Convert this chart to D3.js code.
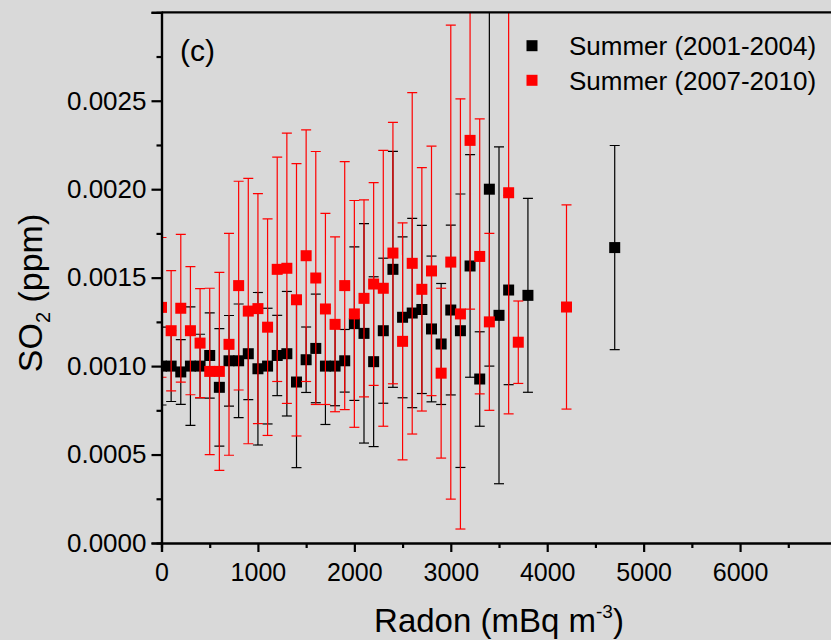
<!DOCTYPE html>
<html><head><meta charset="utf-8">
<script src="https://cdn.jsdelivr.net/npm/d3@7"></script>
<style>
html,body{margin:0;padding:0;background:#d9d9d9;}
svg{display:block;font-family:"Liberation Sans",Arial,sans-serif;}
</style></head>
<body><svg id="c" width="831" height="640"></svg>
<script>
// Summer (2001-2004)
const radonA = [0,100,200,300,400,500,600,700,800,900,1000,1100,1200,1300,1400,1500,1600,1700,1800,1900,2000,2100,2200,2300,2400,2500,2600,2700,2800,2900,3000,3100,3200,3300,3400,3500,3600,3800,4700];
const so2A = [0.00100,0.00100,0.000967,0.00100,0.00100,0.00106,0.00088,0.00103,0.00103,0.00107,0.000985,0.00100,0.00106,0.00107,0.00091,0.001036,0.00110,0.00100,0.00100,0.00103,0.00124,0.001185,0.001025,0.00120,0.001547,0.001276,0.00130,0.00132,0.00121,0.001125,0.001317,0.00120,0.001566,0.000927,0.00200,0.001287,0.00143,0.00140,0.00167];
const errA = [0.00022,0.0002,0.000183,0.000335,0.00018,0.000241,0.000332,0.000256,0.000321,0.00026,0.000431,0.000327,0.000227,0.000352,0.000484,0.000185,0.000307,0.00033,0.000224,0.000177,0.000434,0.00062,0.00048,0.00041,0.000667,0.000455,0.000535,0.000475,0.000412,0.000342,0.00048,0.000773,0.000629,0.000267,0.001,0.000952,0.000535,0.000548,0.000577];
// Summer (2007-2010)
const radonB = [0,100,200,300,400,500,600,700,800,900,1000,1100,1200,1300,1400,1500,1600,1700,1800,1900,2000,2100,2200,2300,2400,2500,2600,2700,2800,2900,3000,3100,3200,3300,3400,3600,3700,4200];
const so2B = [0.001332,0.0012,0.001327,0.0012,0.00113,0.00097,0.00097,0.001123,0.001455,0.001311,0.001325,0.00122,0.001547,0.001553,0.001375,0.001624,0.001498,0.001323,0.001236,0.001455,0.001295,0.001383,0.001464,0.00144,0.001639,0.00114,0.001581,0.001434,0.001538,0.00096,0.001588,0.001295,0.002276,0.00162,0.00125,0.00198,0.001135,0.001334];
const errB = [0.000395,0.00034,0.000418,0.000362,0.000308,0.00047,0.00056,0.000627,0.00059,0.00075,0.00065,0.000612,0.000634,0.000764,0.00077,0.000711,0.000715,0.00054,0.000494,0.000701,0.000641,0.000557,0.000573,0.00078,0.000739,0.00067,0.000965,0.000688,0.000705,0.00048,0.00134,0.001216,0.000954,0.000777,0.0005,0.00125,0.000233,0.000577];

const seriesNames = ["Summer (2001-2004)","Summer (2007-2010)"];
const seriesColors = ["#000000","#ff0000"];
const xTicks = [0,1000,2000,3000,4000,5000,6000,7000];
const xMinor = [500,1500,2500,3500,4500,5500,6500];
const yTicks = [0,0.0005,0.0010,0.0015,0.0020,0.0025,0.0030];
const yMinor = [0.00025,0.00075,0.00125,0.00175,0.00225,0.00275];

const L = 161.5, T = 12.3, W = 675, H = 530.7;
const svg = d3.select("#c");
const x = d3.scaleLinear().domain([0,7000]).range([L, L+W]);
const y = d3.scaleLinear().domain([0,0.003]).range([T+H, T]);

svg.append("defs").append("clipPath").attr("id","clip")
  .append("rect").attr("x",L).attr("y",T).attr("width",W).attr("height",H);

const plot = svg.append("g").attr("clip-path","url(#clip)");

function drawSeries(xs, ys, es, color){
  const g = plot.append("g");
  const d = xs.map((v,i)=>({x:v,y:ys[i],e:es[i]}));
  g.selectAll("line.v").data(d).join("line")
    .attr("x1",p=>x(p.x)).attr("x2",p=>x(p.x))
    .attr("y1",p=>y(p.y+p.e)).attr("y2",p=>y(p.y-p.e))
    .attr("stroke",color).attr("stroke-width",1.2);
  g.selectAll("line.t").data(d).join("line")
    .attr("x1",p=>x(p.x)-5).attr("x2",p=>x(p.x)+5)
    .attr("y1",p=>y(p.y+p.e)).attr("y2",p=>y(p.y+p.e))
    .attr("stroke",color).attr("stroke-width",1.2);
  g.selectAll("line.b").data(d).join("line")
    .attr("x1",p=>x(p.x)-5).attr("x2",p=>x(p.x)+5)
    .attr("y1",p=>y(p.y-p.e)).attr("y2",p=>y(p.y-p.e))
    .attr("stroke",color).attr("stroke-width",1.2);
  g.selectAll("rect").data(d).join("rect")
    .attr("x",p=>x(p.x)-5.5).attr("y",p=>y(p.y)-5.5)
    .attr("width",11).attr("height",11).attr("fill",color);
}
drawSeries(radonA, so2A, errA, seriesColors[0]);
drawSeries(radonB, so2B, errB, seriesColors[1]);

// axes
const xAxis = svg.append("g").attr("transform",`translate(0,${T+H})`)
  .call(d3.axisBottom(x).tickValues(xTicks).tickSize(9).tickPadding(11).tickFormat(d=>d===7000?"":d3.format("d")(d)));
const xAxisMinor = svg.append("g").attr("transform",`translate(0,${T+H})`)
  .call(d3.axisBottom(x).tickValues(xMinor).tickSize(5).tickFormat(""));
const yAxis = svg.append("g").attr("transform",`translate(${L},0)`)
  .call(d3.axisLeft(y).tickValues(yTicks).tickSize(10).tickPadding(5).tickFormat(d=>d>=0.0029?"":d3.format(".4f")(d)));
const yAxisMinor = svg.append("g").attr("transform",`translate(${L},0)`)
  .call(d3.axisLeft(y).tickValues(yMinor).tickSize(5).tickFormat(""));
[xAxis,xAxisMinor,yAxis,yAxisMinor].forEach(a=>{
  a.select(".domain").attr("stroke","#000").attr("stroke-width",2.2);
  a.selectAll(".tick line").attr("stroke","#000").attr("stroke-width",2.2);
  a.selectAll("text").attr("fill","#000").attr("font-family","Liberation Sans, Arial, sans-serif");
});
xAxis.selectAll("text").attr("font-size",25);
yAxis.selectAll("text").attr("font-size",26);
// top frame
svg.append("line").attr("x1",L).attr("x2",L+W).attr("y1",T).attr("y2",T)
  .attr("stroke","#000").attr("stroke-width",2.2);

// axis titles
const xt = svg.append("text").attr("x",x(3500)).attr("y",632).attr("text-anchor","middle")
  .attr("font-size",33).attr("fill","#000");
xt.append("tspan").text("Radon (mBq m");
xt.append("tspan").attr("font-size",19).attr("dy",-14).text("-3");
xt.append("tspan").attr("dy",14).text(")");

const yt = svg.append("text").attr("transform",`translate(42,293) rotate(-90)`)
  .attr("text-anchor","middle").attr("font-size",34).attr("fill","#000");
yt.append("tspan").text("SO");
yt.append("tspan").attr("font-size",20).attr("dy",8).text("2");
yt.append("tspan").attr("dy",-8).text(" (ppm)");

// panel label
svg.append("text").attr("x",180).attr("y",61).attr("font-size",30).attr("fill","#000").text("(c)");

// legend
const leg = svg.append("g");
seriesNames.forEach((n,i)=>{
  const cy = 45.7 + i*34.6;
  leg.append("rect").attr("x",526.5).attr("y",cy-5.5).attr("width",11).attr("height",11).attr("fill",seriesColors[i]);
  leg.append("text").attr("x",569).attr("y",cy+9.5).attr("font-size",26).attr("fill","#000").text(n);
});
</script></body></html>
